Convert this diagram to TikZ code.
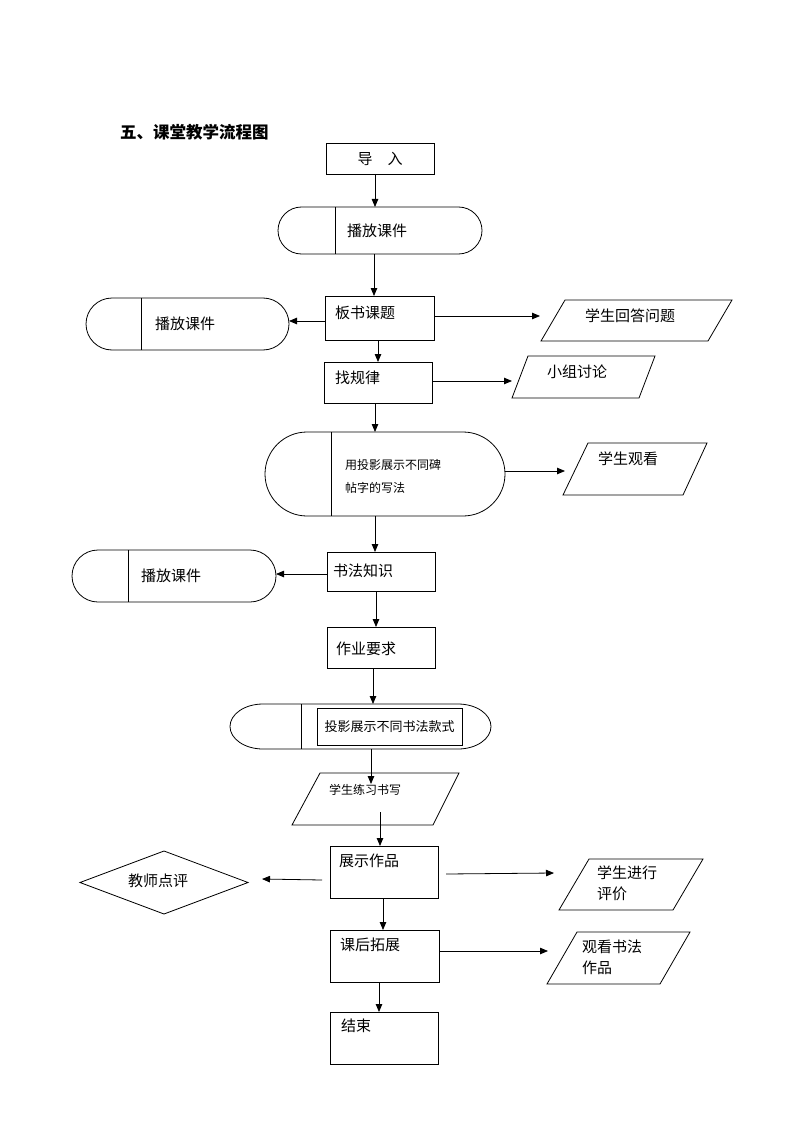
\documentclass[tikz,border=0pt]{standalone}
\usepackage{fontspec}
\setmainfont{Noto Sans CJK SC}
\usetikzlibrary{arrows.meta,shapes.geometric,calc}
\begin{document}
\begin{tikzpicture}[x=1pt,y=-1pt,
  every node/.style={inner sep=0pt, outer sep=0pt},
  box/.style={draw, line width=0.8pt, rectangle},
  term/.style={draw, line width=0.8pt, rounded corners=#1},
  ln/.style={line width=0.8pt},
  big/.style={font=\fontsize{15}{18}\selectfont},
  lbl/.style={font=\fontsize{15}{18}\selectfont, anchor=west},
  sml/.style={font=\fontsize{12}{15}\selectfont},
  arr/.style={line width=0.8pt, -{Triangle[length=8pt,width=6.5pt]}}]
\useasboundingbox (0,0) rectangle (794,1123);

% title
\node[anchor=west, font=\fontsize{16.5}{20}\selectfont\bfseries] (title) at (120,132) {五、课堂教学流程图};

% 导入
\node[box, big, minimum width=108pt, minimum height=31pt] (dr) at (380,158.5) {导　入};

% terminator 1
\node[term=23.5pt, minimum width=204pt, minimum height=47pt] (t1) at (380,230.5) {};
\draw[ln] (t1.north -| 335,0) -- (t1.south -| 335,0);
\node[lbl] (t1t) at (347,231) {播放课件};
\draw[arr] (dr.south -| 375,0) -- (t1.north -| 375,0);

% 板书课题
\node[box, minimum width=109pt, minimum height=44pt] (b1) at (379.5,318) {};
\node[lbl] (b1t) at (335,313) {板书课题};
\draw[arr] (t1.south -| 374,0) -- (b1.north -| 374,0);

% terminator 2
\node[term=26pt, minimum width=203pt, minimum height=52pt] (t2) at (187.5,324) {};
\draw[ln] (t2.north -| 141,0) -- (t2.south -| 141,0);
\node[lbl] (t2t) at (155,324) {播放课件};
\draw[arr] (b1.west |- 0,321) -- (t2.east |- 0,321);

% 学生回答问题
\draw[ln] (565,300) -- (732,300) -- (708,341) -- (541,341) -- cycle;
\node[big] (p1) at (630,316) {学生回答问题};
\coordinate (p1w) at (540,316);
\draw[arr] (b1.east |- p1w) -- (p1w);

% 找规律
\node[box, minimum width=108pt, minimum height=41pt] (b2) at (378,382.5) {};
\node[lbl] (b2t) at (335,378) {找规律};
\draw[arr] (b1.south -| 378,0) -- (b2.north -| 378,0);

% 小组讨论
\draw[ln] (528,356) -- (655,356) -- (639,398) -- (512,398) -- cycle;
\node[big] (p2) at (577,372) {小组讨论};
\coordinate (p2w) at (512,381);
\draw[arr] (b2.east |- p2w) -- (p2w);

% terminator 3
\node[term=42pt, minimum width=240pt, minimum height=84pt] (t3) at (385,474) {};
\draw[ln] (t3.north -| 331,0) -- (t3.south -| 331,0);
\node[font=\fontsize{12}{23}\selectfont, align=left, anchor=west] (t3t) at (345,476.5) {用投影展示不同碑\\帖字的写法};
\draw[arr] (b2.south -| 375,0) -- (t3.north -| 375,0);

% 学生观看
\draw[ln] (588,443) -- (707,443) -- (683,495) -- (563,495) -- cycle;
\node[big] (p3) at (628,459) {学生观看};
\coordinate (p3w) at (565,471);
\draw[arr] (t3.east |- p3w) -- (p3w);

% 书法知识
\node[box, minimum width=108pt, minimum height=39pt] (b3) at (381,571.5) {};
\node[lbl] (b3t) at (333,571) {书法知识};
\draw[arr] (t3.south -| 375,0) -- (b3.north -| 375,0);

% terminator 4
\node[term=26pt, minimum width=204pt, minimum height=52pt] (t4) at (174,576) {};
\draw[ln] (t4.north -| 128,0) -- (t4.south -| 128,0);
\node[lbl] (t4t) at (141,576) {播放课件};
\draw[arr] (b3.west |- 0,574) -- (t4.east |- 0,574);

% 作业要求
\node[box, minimum width=108pt, minimum height=41pt] (b4) at (381,647.5) {};
\node[lbl] (b4t) at (336,649) {作业要求};
\draw[arr] (b3.south -| 376,0) -- (b4.north -| 376,0);

% terminator 5
\node[minimum width=261pt, minimum height=45pt] (t5) at (360.5,726.5) {};
\draw[ln] ($(t5.north west)+(33,0)$) -- ($(t5.north east)+(-33,0)$)
  arc[start angle=-90, end angle=90, x radius=33, y radius=22.5]
  -- ($(t5.south west)+(33,0)$)
  arc[start angle=90, end angle=270, x radius=33, y radius=22.5] -- cycle;
\draw[ln] (t5.north -| 301,0) -- (t5.south -| 301,0);
\node[box, font=\fontsize{13}{15}\selectfont, minimum width=145pt, minimum height=37pt] (t5in) at (389.5,726.5) {投影展示不同书法款式};
\draw[arr] (b4.south -| 373,0) -- (t5.north -| 373,0);

% 学生练习书写
\draw[ln] (320,773) -- (459,773) -- (433,825) -- (292,825) -- cycle;
\node[sml] (p4) at (365,790) {学生练习书写};
\coordinate (p4in) at (371,784);
\draw[arr] (t5.south -| p4in) -- (p4in);

% 展示作品
\node[box, minimum width=108pt, minimum height=52pt] (b5) at (384,872) {};
\node[lbl] (b5t) at (339,861) {展示作品};
\coordinate (p4out) at (380,812);
\draw[arr] (p4out) -- (b5.north -| p4out);

% 教师点评
\node[draw, ln, diamond, aspect=2.67, minimum width=168pt, minimum height=63pt] (d) at (164,882.5) {};
\node[big] (dt) at (158,881) {教师点评};
\coordinate (b5l) at (322,880);
\coordinate (dE) at (262,879);
\draw[arr] (b5l) -- (dE);

% 学生进行评价
\draw[ln] (589,859) -- (703,859) -- (673,910) -- (559,910) -- cycle;
\node[font=\fontsize{15}{21}\selectfont, align=left, anchor=west] (p5) at (597,883.5) {学生进行\\评价};
\coordinate (b5r) at (446,874);
\coordinate (p5w) at (554,873);
\draw[arr] (b5r) -- (p5w);

% 课后拓展
\node[box, minimum width=109pt, minimum height=52pt] (b6) at (384.5,956) {};
\node[lbl] (b6t) at (340,945) {课后拓展};
\draw[arr] (b5.south -| 383,0) -- (b6.north -| 383,0);

% 观看书法作品
\draw[ln] (577,932) -- (690,932) -- (660,984) -- (547,984) -- cycle;
\node[font=\fontsize{15}{21}\selectfont, align=left, anchor=west] (p6) at (582,957.5) {观看书法\\作品};
\coordinate (p6w) at (548,951);
\draw[arr] ($(b6.east |- p6w)+(1,0)$) -- (p6w);

% 结束
\node[box, minimum width=108pt, minimum height=52pt] (b7) at (384,1038) {};
\node[lbl] (b7t) at (341,1026) {结束};
\draw[arr] (b6.south -| 379,0) -- (b7.north -| 379,0);
\end{tikzpicture}
\end{document}
